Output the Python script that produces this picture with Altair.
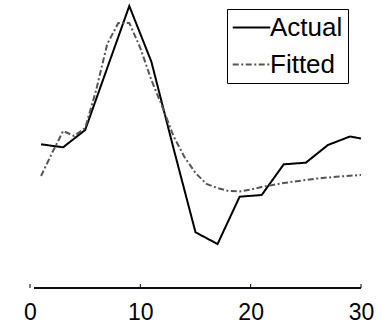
import altair as alt
import pandas as pd

# Actual series
actual_x = [1, 3, 5, 7, 9, 11, 13, 15, 17, 19, 21, 23, 25, 27, 29, 30]
actual_y = [14.37, 14.07, 15.8, 22.0, 28.2, 22.63, 14.0, 5.57, 4.4, 9.13, 9.3,
            12.37, 12.53, 14.3, 15.15, 14.95]

# Fitted series
fitted_x = list(range(1, 31))
fitted_y = [11.2, 13.5, 15.7, 15.2, 16.0, 19.8, 24.4, 26.5, 26.5, 24.0,
            20.8, 18.1, 15.2, 13.1, 11.5, 10.4, 10.0, 9.7, 9.65, 9.85,
            10.1, 10.3, 10.5, 10.65, 10.8, 10.95, 11.05, 11.15, 11.22, 11.3]

x_ticks = [0, 10, 20, 30]
series_names = ["Actual", "Fitted"]

W, H = 331, 283

df = pd.concat([
    pd.DataFrame({"x": actual_x, "y": actual_y, "series": "Actual"}),
    pd.DataFrame({"x": fitted_x, "y": fitted_y, "series": "Fitted"}),
])

xscale = alt.Scale(domain=[0, 30], nice=False, zero=False)
yscale = alt.Scale(domain=[0, 28.3], nice=False, zero=False)

lines = alt.Chart(df).mark_line(strokeWidth=2).encode(
    x=alt.X("x:Q", scale=xscale,
            axis=alt.Axis(values=x_ticks, title=None, ticks=False, domain=False,
                          grid=False, labelFontSize=23, labelFont="Liberation Sans",
                          labelColor="black", labelPadding=13, labelFlush=False)),
    y=alt.Y("y:Q", scale=yscale, axis=None),
    color=alt.Color("series:N",
                    scale=alt.Scale(domain=series_names, range=["black", "#555555"]),
                    legend=alt.Legend(title=None)),
    strokeDash=alt.StrokeDash("series:N",
                              scale=alt.Scale(domain=series_names,
                                              range=[[1, 0], [6, 2.5, 2, 2.5]]),
                              legend=alt.Legend(title=None)),
    order="x:Q",
)

ticks_df = pd.DataFrame({"x": x_ticks})
tick_marks = alt.Chart(ticks_df).mark_rule(color="black", strokeWidth=1).encode(
    x=alt.X("x:Q", scale=xscale),
    y=alt.value(H - 4),
    y2=alt.value(H),
)

domain_line = alt.Chart(ticks_df).mark_rule(color="black", strokeWidth=1).encode(
    x=alt.value(4), x2=alt.value(W), y=alt.value(H)
)

chart = alt.layer(lines, tick_marks, domain_line).properties(
    width=W, height=H,
    padding={"left": 30, "top": 5, "right": 20, "bottom": 35},
    autosize=alt.AutoSizeParams(type="none"),
).configure_view(stroke=None).configure_legend(
    orient="none", legendX=197, legendY=4,
    strokeColor="black", fillColor="white", padding=5,
    symbolType="M-1.5,0H1.5", symbolSize=625, symbolStrokeWidth=2,
    symbolOffset=6,
    labelFontSize=26, labelFont="Liberation Sans", labelColor="black",
    labelOffset=5, rowPadding=10, cornerRadius=0,
)

chart.save("out.html", embed_options={"renderer": "svg", "actions": False})
